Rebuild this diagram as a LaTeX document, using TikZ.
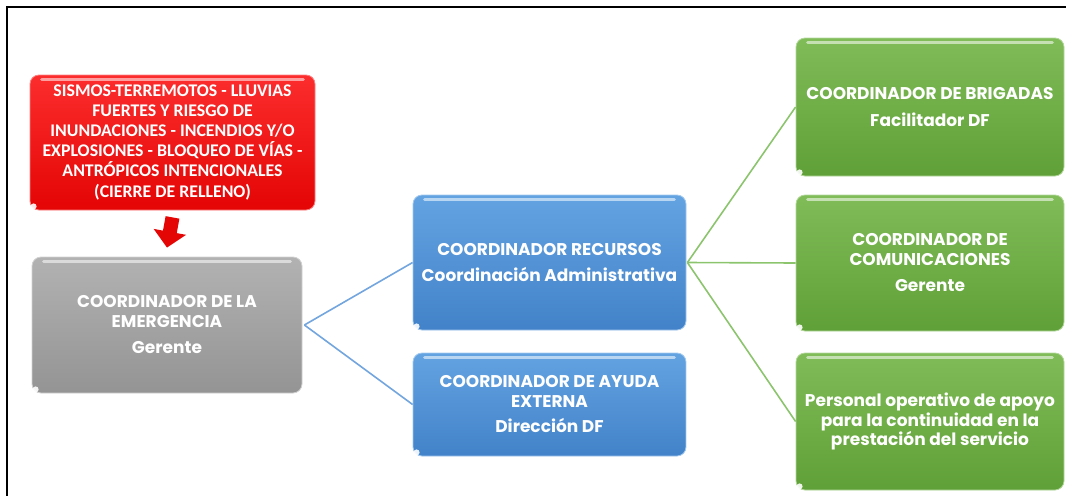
\documentclass[tikz,border=0pt]{standalone}
\usepackage{fontspec}
\newfontfamily\cgfont{Poppins}
\newfontfamily\carlitofont{Carlito}
\usetikzlibrary{arrows.meta,calc}
\definecolor{redT}{RGB}{252,45,45}
\definecolor{redB}{RGB}{228,5,5}
\definecolor{grayT}{RGB}{178,178,178}
\definecolor{grayB}{RGB}{148,148,148}
\definecolor{blueT}{RGB}{100,163,226}
\definecolor{blueB}{RGB}{66,130,200}
\definecolor{greenT}{RGB}{128,188,88}
\definecolor{greenB}{RGB}{96,160,56}
\definecolor{bluelink}{RGB}{115,165,222}
\definecolor{greenlink}{RGB}{140,196,110}
\tikzset{
  box/.style={rectangle, rounded corners=9pt, top color=#1T, bottom color=#1B,
    draw=#1T!60!white, line width=0.8pt, text=white, align=center, inner sep=2pt},
  cgtext/.style={font=\cgfont\bfseries\fontsize{17}{19.5}\selectfont},
  caltext/.style={font=\carlitofont\bfseries\fontsize{17.8}{20}\selectfont},
  bluecon/.style={draw=bluelink, line width=1.6pt},
  greencon/.style={draw=greenlink, line width=1.6pt},
  frameline/.style={draw=black, line width=2pt}
}
\newcommand{\hilite}[1]{%
  \draw[white, opacity=0.55, line width=3pt, line cap=round]
    ([xshift=12pt,yshift=-5pt]#1.north west) -- ([xshift=-12pt,yshift=-5pt]#1.north east);
  \fill[white, opacity=0.9] ([xshift=4pt,yshift=4pt]#1.south west) circle (3pt);
}
\begin{document}
\begin{tikzpicture}[x=1pt,y=-1pt]
\useasboundingbox (0,0) rectangle (1066,496);
% frame
\coordinate (fTL) at (7,7);
\coordinate (fTR) at (1066,7);
\coordinate (fBL) at (7,496);
\draw[frameline] (fTR) -- (fTL) -- (fBL);

% nodes
\node[box=red, caltext, minimum width=285pt, minimum height=135pt] (hazard) at (172.5,142.5)
  {SISMOS-TERREMOTOS - LLUVIAS\\FUERTES Y RIESGO DE\\INUNDACIONES - INCENDIOS Y/O\\EXPLOSIONES - BLOQUEO DE VÍAS -\\ANTRÓPICOS INTENCIONALES\\[1pt](CIERRE DE RELLENO)};
\node[box=gray, cgtext, minimum width=270pt, minimum height=136pt] (emerg) at (167,325)
  {COORDINADOR DE LA\\EMERGENCIA\\[7pt]Gerente};
\node[box=blue, cgtext, minimum width=273pt, minimum height=135pt] (recursos) at (549.5,262.5)
  {COORDINADOR RECURSOS\\[6pt]Coordinación Administrativa};
\node[box=blue, cgtext, minimum width=273pt, minimum height=103pt] (ayuda) at (549.5,404.5)
  {COORDINADOR DE AYUDA\\EXTERNA\\[6pt]Dirección DF};
\node[box=green, cgtext, minimum width=268pt, minimum height=138pt] (brigadas) at (930,107)
  {COORDINADOR DE BRIGADAS\\[7pt]Facilitador DF};
\node[box=green, cgtext, minimum width=268pt, minimum height=136pt] (comunic) at (930,263)
  {COORDINADOR DE\\COMUNICACIONES\\[7pt]Gerente};
\node[box=green, cgtext, minimum width=268pt, minimum height=137pt] (personal) at (930,421.5)
  {Personal operativo de apoyo\\para la continuidad en la\\prestación del servicio};

\hilite{hazard}
\hilite{emerg}
\hilite{recursos}
\hilite{ayuda}
\hilite{brigadas}
\hilite{comunic}
\hilite{personal}

% arrow
\draw[draw=redB, line width=14pt, -{Triangle[length=16pt,width=32pt]}]
  ([yshift=-7pt]hazard.south) -- ([yshift=9pt]emerg.north);

% connectors
\draw[bluecon] ([xshift=2pt]emerg.east) -- (recursos.west);
\draw[bluecon] ([xshift=2pt]emerg.east) -- (ayuda.west);
\draw[greencon] ([xshift=1pt]recursos.east) -- (brigadas.west);
\draw[greencon] ([xshift=1pt]recursos.east) -- (comunic.west);
\draw[greencon] ([xshift=1pt]recursos.east) -- (personal.west);
\end{tikzpicture}
\end{document}
